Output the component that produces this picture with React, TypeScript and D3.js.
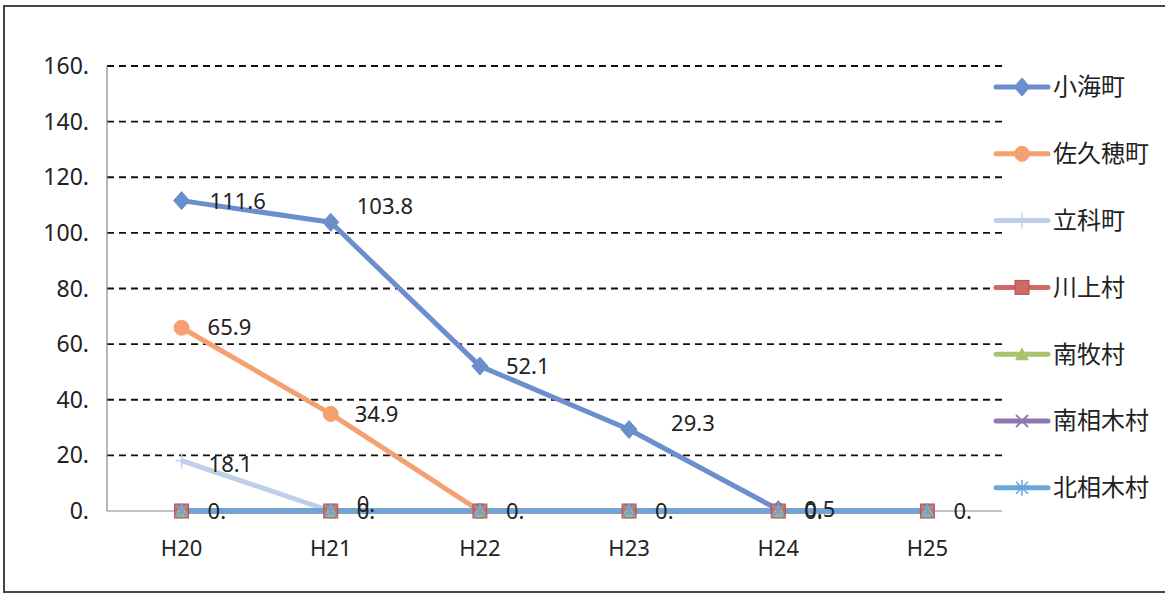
import React from "react";
import * as d3 from "d3";

const categories = ["H20", "H21", "H22", "H23", "H24", "H25"];
const seriesNames = ["小海町", "佐久穂町", "立科町", "川上村", "南牧村", "南相木村", "北相木村"];
const koumi = [111.6, 103.8, 52.1, 29.3, 0.5, null];
const sakuho = [65.9, 34.9, 0, null, null, null];
const tateshina = [18.1, 0, null, null, null, null];
const kawakami = [0, 0, 0, 0, 0, 0];
const minamimaki = [0, 0, 0, 0, 0, 0];
const minamiaiki = [0, 0, 0, 0, 0, 0];
const kitaaiki = [0, 0, 0, 0, 0, 0];
const yTicks = [0, 20, 40, 60, 80, 100, 120, 140, 160];

const seriesValues: (number | null)[][] = [koumi, sakuho, tateshina, kawakami, minamimaki, minamiaiki, kitaaiki];
const colors = ["#6a8fcc", "#f4a070", "#bcd0ec", "#cd6b68", "#a9c46c", "#9077b0", "#6aa6dc"];
const markers = ["diamond", "circle", "plus", "square", "triangle", "x", "star"];

const fmt = (v: number) => (Number.isInteger(v) ? `${v}.` : `${v}`);

function Marker({ type, x, y, color }: { type: string; x: number; y: number; color: string }) {
  const s = 8;
  switch (type) {
    case "diamond":
      return <path d={`M${x},${y - s - 1}L${x + s},${y}L${x},${y + s + 1}L${x - s},${y}Z`} fill={color} stroke={color} />;
    case "circle":
      return <circle cx={x} cy={y} r={7.5} fill={color} stroke={color} />;
    case "square":
      return <rect x={x - 7} y={y - 7} width={14} height={14} fill={color} stroke="#b45350" />;
    case "triangle":
      return <path d={`M${x},${y - 7}L${x + 7},${y + 6}L${x - 7},${y + 6}Z`} fill={color} />;
    case "plus":
      return (
        <g stroke={color} strokeWidth={1.5}>
          <line x1={x - 6} x2={x + 6} y1={y} y2={y} />
          <line x1={x} x2={x} y1={y - 8} y2={y + 8} />
        </g>
      );
    case "x":
      return (
        <g stroke={color} strokeWidth={1.8}>
          <line x1={x - 6} x2={x + 6} y1={y - 6} y2={y + 6} />
          <line x1={x - 6} x2={x + 6} y1={y + 6} y2={y - 6} />
        </g>
      );
    case "star":
      return (
        <g stroke={color} strokeWidth={1.6}>
          <line x1={x - 6} x2={x + 6} y1={y - 6} y2={y + 6} />
          <line x1={x - 6} x2={x + 6} y1={y + 6} y2={y - 6} />
          <line x1={x} x2={x} y1={y - 8} y2={y + 8} />
        </g>
      );
  }
  return null;
}

// label nudges (series index, category index) -> [dx, dy]
const labelNudge: Record<string, [number, number]> = {
  "0-0": [28, 1],
  "0-1": [26, -16],
  "0-3": [42, -6],
  "0-4": [26, 0],
  "2-0": [27, 4],
  "2-1": [26, -7],
  "1-1": [24, 0],
};

export default function App() {
  const width = 1165;
  const height = 596;
  const plotLeft = 107;
  const plotRight = 1002;
  const x = d3.scaleBand<string>().domain(categories).range([plotLeft, plotRight]);
  const y = d3.scaleLinear().domain([0, 160]).range([511, 66]);
  const cx = (c: string) => (x(c) as number) + x.bandwidth() / 2;

  const font = "'Noto Sans', 'Noto Sans CJK JP', sans-serif";

  // build labels, dropping exact duplicates at identical positions
  const seen = new Set<string>();
  const labels: { key: string; x: number; y: number; text: string }[] = [];
  seriesValues.forEach((vals, si) => {
    vals.forEach((v, ci) => {
      if (v === null) return;
      const n = labelNudge[`${si}-${ci}`] || [26, 0];
      const lx = cx(categories[ci]) + n[0];
      const ly = y(v) + n[1];
      const text = fmt(v);
      const k = `${Math.round(lx)}-${Math.round(ly)}-${text}`;
      if (seen.has(k)) return;
      seen.add(k);
      labels.push({ key: `${si}-${ci}`, x: lx, y: ly, text });
    });
  });

  return (
    <svg width={width} height={height} style={{ position: "absolute", left: 0, top: 0, background: "#fff" }} fontFamily={font}>
      <rect x={4} y={6} width={1175} height={586} fill="#fff" stroke="#444" strokeWidth={2} />
      {/* gridlines */}
      {yTicks.filter((t) => t > 0).map((t) => (
        <line key={t} x1={plotLeft} x2={plotRight} y1={y(t)} y2={y(t)} stroke="#111" strokeWidth={1.8} strokeDasharray="7,5" />
      ))}
      {/* axes */}
      <line x1={plotLeft} x2={plotLeft} y1={y(160)} y2={y(0)} stroke="#888" strokeWidth={1.2} />
      <line x1={plotLeft} x2={plotRight} y1={y(0)} y2={y(0)} stroke="#888" strokeWidth={1.2} />
      {yTicks.map((t) => (
        <text key={t} x={89} y={y(t)} dy="0.35em" textAnchor="end" fontSize={23} fill="#222">{`${t}.`}</text>
      ))}
      {categories.map((c) => (
        <text key={c} x={cx(c)} y={548} dy="0.35em" textAnchor="middle" fontSize={22} fill="#222">{c}</text>
      ))}
      {/* lines */}
      {seriesValues.map((vals, si) => {
        const line = d3
          .line<number | null>()
          .defined((v) => v !== null)
          .x((_, i) => cx(categories[i]))
          .y((v) => y(v as number));
        return (
          <g key={si}>
            <path d={line(vals) || ""} fill="none" stroke={colors[si]} strokeWidth={5} strokeLinejoin="round" />
          </g>
        );
      })}
      {seriesValues.map((vals, si) => (
        <g key={`m${si}`}>
          {vals.map((v, ci) =>
            v === null ? null : <Marker key={ci} type={markers[si]} x={cx(categories[ci])} y={y(v)} color={colors[si]} />
          )}
        </g>
      ))}
      {/* labels */}
      {labels.map((l) => (
        <text key={l.key} x={l.x} y={l.y} dy="0.35em" fontSize={22} fill="#222">
          {l.text}
        </text>
      ))}
      {/* legend */}
      {seriesNames.map((name, i) => {
        const ly = 87 + i * 66.8;
        return (
          <g key={name}>
            <line x1={996} x2={1048} y1={ly} y2={ly} stroke={colors[i]} strokeWidth={5} strokeLinecap="round" />
            <Marker type={markers[i]} x={1022} y={ly} color={colors[i]} />
            <text x={1053} y={ly} dy="0.35em" fontSize={24} fill="#222" fontFamily="'Noto Sans CJK JP', sans-serif">{name}</text>
          </g>
        );
      })}
    </svg>
  );
}
